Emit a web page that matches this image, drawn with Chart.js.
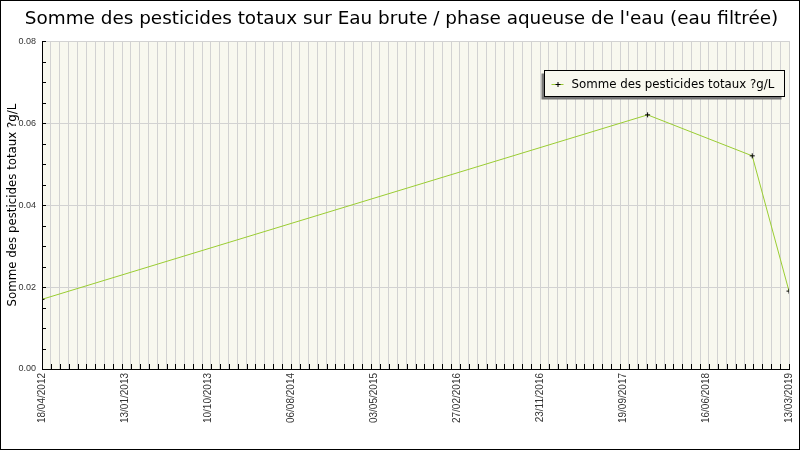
<!DOCTYPE html>
<html>
<head>
<meta charset="utf-8">
<script src="https://cdn.jsdelivr.net/npm/chart.js@4/dist/chart.umd.min.js"></script>
<style>
html, body { margin: 0; padding: 0; background: #fff; }
</style>
</head>
<body>
<canvas id="pestChart" width="800" height="450"></canvas>
<script>
"use strict"

// values
// -----------------
var sampleDates = ['2012-04-18', '2017-11-21', '2018-11-09', '2019-03-13'];
var sampleValues = [0.017, 0.062, 0.052, 0.019];
var tickLabels = ['18/04/2012', '13/01/2013', '10/10/2013', '06/08/2014', '03/05/2015',
                  '27/02/2016', '23/11/2016', '19/09/2017', '16/06/2018', '13/03/2019'];
var seriesLabel = 'Somme des pesticides totaux ?g/L';
var titleText = "Somme des pesticides totaux sur Eau brute / phase aqueuse de l'eau (eau filtrée)";

var dejavu = "'DejaVu Sans', sans-serif";
var small = "'Liberation Sans', Arial, sans-serif";
var plotBg = '#f8f8ef';
var gridColor = '#d2d2d2';
var minorDays = 30;

// days since the first sample
function dayOf(s) {
    var p = s.split('-');
    var first = sampleDates[0].split('-');
    return (Date.UTC(+p[0], p[1] - 1, +p[2]) - Date.UTC(+first[0], first[1] - 1, +first[2])) / 86400000;
}

var xMax = dayOf(sampleDates[sampleDates.length - 1]);
var labelStep = xMax / (tickLabels.length - 1);

var points = [];
for (var i = 0; i < sampleDates.length; i++) {
    points.push({ x: dayOf(sampleDates[i]), y: sampleValues[i] });
}

// background, inner tick marks, legend box, frame
// -----------------
var framePlugin = {
    id: 'frame',
    beforeDraw: function(chart) {
        var c = chart.ctx, a = chart.chartArea;
        c.save();
        c.fillStyle = '#fff';
        c.fillRect(0, 0, chart.width, chart.height);
        c.fillStyle = plotBg;
        c.fillRect(a.left, a.top, a.right - a.left, a.bottom - a.top);
        c.restore();
    },
    afterDraw: function(chart) {
        var c = chart.ctx, a = chart.chartArea;
        var xs = chart.scales.x, ys = chart.scales.y;
        c.save();
        c.strokeStyle = '#000';
        c.lineWidth = 1;
        c.beginPath();
        for (var d = 0; d <= xMax; d += minorDays) {
            var px = Math.round(xs.getPixelForValue(d)) + 0.5;
            c.moveTo(px, a.bottom);
            c.lineTo(px, a.bottom - 5);
        }
        for (var k = 0; k <= 16; k++) {
            var py = Math.round(ys.getPixelForValue(k * 0.005)) + 0.5;
            c.moveTo(a.left, py);
            c.lineTo(a.left + 4, py);
        }
        c.stroke();

        // legend
        var lw = 240, lh = 26;
        var lx = Math.round(a.right - 5 - lw) + 0.5, ly = Math.round(a.top + 29) + 0.5;
        c.fillStyle = '#777';
        c.fillRect(lx - 3, ly + 3, lw, lh);
        c.fillStyle = plotBg;
        c.fillRect(lx, ly, lw, lh);
        c.strokeStyle = '#000';
        c.strokeRect(lx, ly, lw, lh);
        var my = Math.round(ly + lh / 2);
        c.strokeStyle = '#9acd32';
        c.beginPath();
        c.moveTo(lx + 7, my + 0.5);
        c.lineTo(lx + 19, my + 0.5);
        c.stroke();
        c.strokeStyle = '#000';
        c.beginPath();
        c.moveTo(lx + 11, my + 0.5);
        c.lineTo(lx + 16, my + 0.5);
        c.moveTo(lx + 13.5, my - 2);
        c.lineTo(lx + 13.5, my + 3);
        c.stroke();
        c.fillStyle = '#000';
        c.font = '11.8px ' + dejavu;
        c.textBaseline = 'middle';
        c.fillText(chart.data.datasets[0].label, lx + 27, my + 1);

        c.strokeStyle = '#000';
        c.strokeRect(0.5, 0.5, chart.width - 1, chart.height - 1);
        c.restore();
    }
};

new Chart(document.getElementById('pestChart'), {
    type: 'line',
    data: {
        datasets: [{
            label: seriesLabel,
            data: points,
            borderColor: '#9acd32',
            borderWidth: 1,
            tension: 0,
            fill: false,
            pointStyle: 'cross',
            pointRadius: 2.5,
            pointBorderColor: '#000',
            pointBorderWidth: 1
        }]
    },
    options: {
        responsive: false,
        animation: false,
        layout: { padding: { left: 14, right: 11, top: 0, bottom: 0 } },
        plugins: {
            legend: { display: false },
            tooltip: { enabled: false },
            title: {
                display: true,
                text: titleText,
                color: '#000',
                font: { family: dejavu, size: 18.4, weight: 'normal' },
                padding: { top: 8, bottom: 11 }
            }
        },
        scales: {
            x: {
                type: 'linear',
                min: 0,
                max: xMax,
                afterBuildTicks: function(axis) {
                    var t = [];
                    for (var d = 0; d <= xMax; d += minorDays) t.push({ value: d });
                    for (var j = 0; j < tickLabels.length; j++) {
                        var v = j * labelStep;
                        if (v % minorDays) t.push({ value: v });
                    }
                    t.sort(function(a, b) { return a.value - b.value; });
                    axis.ticks = t;
                },
                afterFit: function(scale) {
                    scale.height = 81;
                    scale.paddingLeft = 0;
                    scale.paddingRight = 0;
                },
                ticks: {
                    autoSkip: false,
                    minRotation: 90,
                    maxRotation: 90,
                    padding: 4,
                    color: '#333',
                    font: { family: small, size: 10 },
                    callback: function(value) {
                        return value % labelStep === 0 ? tickLabels[value / labelStep] : '';
                    }
                },
                grid: {
                    drawTicks: false,
                    color: function(ctx) {
                        return ctx.tick && ctx.tick.value % minorDays === 0 ? gridColor : 'rgba(0,0,0,0)';
                    }
                },
                border: { color: '#000', width: 1 }
            },
            y: {
                min: 0,
                max: 0.08,
                afterFit: function(scale) { scale.width = 28; },
                ticks: {
                    stepSize: 0.02,
                    padding: 6,
                    color: '#333',
                    font: { family: small, size: 9 },
                    callback: function(value) { return value.toFixed(2); }
                },
                grid: { drawTicks: false, color: gridColor },
                border: { color: '#000', width: 1 },
                title: {
                    display: true,
                    text: seriesLabel,
                    color: '#000',
                    font: { family: dejavu, size: 11.8, weight: 'normal' },
                    padding: { top: -8, bottom: 0 }
                }
            }
        }
    },
    plugins: [framePlugin]
});
</script>
</body>
</html>
